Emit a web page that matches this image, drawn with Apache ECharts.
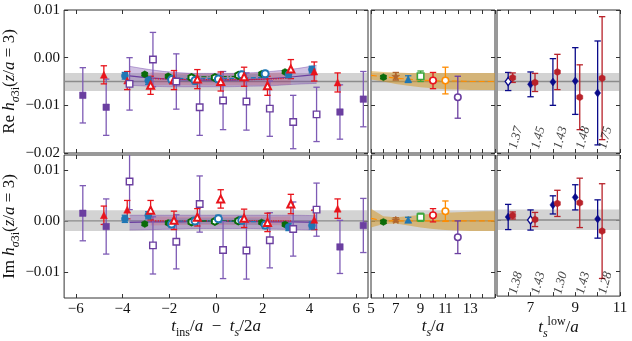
<!DOCTYPE html>
<html>
<head>
<meta charset="utf-8">
<script src="https://cdn.jsdelivr.net/npm/echarts@6/dist/echarts.min.js"></script>
<style>
html, body { margin: 0; padding: 0; background: #fff; }
#main { width: 632px; height: 341px; }
</style>
</head>
<body>
<div id="main"></div>
<script>
// ---- data ----
// left panels: ratio vs t_ins - t_s/2 for t_s = 6, 8, 10, 12
var xP = [-5.7, -4.7, -3.7, -2.7, -1.7, -0.7, 0.3, 1.3, 2.3, 3.3, 4.3, 5.3, 6.3]
var reP = [-0.0079, -0.0104, -0.0055, -0.0004, -0.0050, -0.0104, -0.0090, -0.0092, -0.0107, -0.0135, -0.0119, -0.0114, -0.0087]
var reErrP = [0.0058, 0.0059, 0.0055, 0.0057, 0.0058, 0.0059, 0.0061, 0.0060, 0.0058, 0.0056, 0.0057, 0.0057, 0.0058]
var imP = [0.0016, -0.0010, 0.0078, -0.0047, -0.0040, 0.0034, -0.0056, -0.0057, -0.0037, -0.0015, 0.0023, -0.0050, -0.0008]
var imErrP = [0.0054, 0.0054, 0.0055, 0.0056, 0.0053, 0.0055, 0.0056, 0.0056, 0.0054, 0.0053, 0.0052, 0.0052, 0.0053]

var xR = [-4.8, -3.8, -2.8, -1.8, -0.8, 0.2, 1.2, 2.2, 3.2, 4.2, 5.2]
var reR = [-0.0036, -0.0048, -0.0058, -0.0047, -0.0045, -0.0050, -0.0040, -0.0059, -0.0024, -0.0029, -0.0052]
var reErrR = [0.0019, 0.0019, 0.0019, 0.0020, 0.0020, 0.0020, 0.0020, 0.0020, 0.0020, 0.0020, 0.0020]
var imR = [0.0012, 0.0023, 0.0022, 0.0002, 0.0008, 0.0044, 0.0006, -0.0002, 0.0034, 0.0003, 0.0025]
var imErrR = [0.0018, 0.0018, 0.0019, 0.0018, 0.0017, 0.0018, 0.0018, 0.0018, 0.0019, 0.0019, 0.0019]

var xB = [-3.9, -2.9, -1.9, -0.9, 0.1, 1.1, 2.1, 3.1, 4.1]
var reB = [-0.0038, -0.0048, -0.0046, -0.0048, -0.0045, -0.0036, -0.0034, -0.0035, -0.0025]
var reErrB = [0.0007, 0.0008, 0.0007, 0.0007, 0.0007, 0.0007, 0.0007, 0.0007, 0.0007]
var imB = [0.0005, 0.0012, -0.0005, 0.0001, 0.0005, 0.0002, -0.0007, -0.0011, -0.0008]
var imErrB = [0.0007, 0.0007, 0.0007, 0.0007, 0.0007, 0.0007, 0.0007, 0.0007, 0.0007]

var xG = [-3.05, -2.05, -1.05, -0.05, 0.95, 1.95, 2.95]
var reG = [-0.0035, -0.0039, -0.0042, -0.0042, -0.0037, -0.0034, -0.0030]
var reErrG = [0.0003, 0.0003, 0.0003, 0.0003, 0.0003, 0.0003, 0.0003]
var imG = [-0.0005, -0.0003, -0.0001, 0.0000, 0.0001, -0.0002, -0.0006]
var imErrG = [0.0003, 0.0003, 0.0003, 0.0003, 0.0003, 0.0003, 0.0003]

// fit curves in left panels
var fitXP = [-3.7, -2.7, -1.7, -0.7, 0.3, 1.3, 2.3, 3.3, 4.3]
var reFitP = [-0.0038, -0.0043, -0.0046, -0.0047, -0.0047, -0.0046, -0.0044, -0.0040, -0.0035]
var reFitPHi = [-0.0018, -0.0026, -0.0031, -0.0033, -0.0033, -0.0032, -0.0029, -0.0024, -0.0016]
var reFitPLo = [-0.0058, -0.0060, -0.0061, -0.0061, -0.0061, -0.0060, -0.0059, -0.0056, -0.0054]
var imFitP = [-0.0002, -0.0001, -0.0001, 0.0000, 0.0000, 0.0000, -0.0001, -0.0001, -0.0002]
var imFitPHi = [0.0012, 0.0012, 0.0012, 0.0012, 0.0012, 0.0012, 0.0012, 0.0012, 0.0011]
var imFitPLo = [-0.0017, -0.0016, -0.0015, -0.0014, -0.0014, -0.0014, -0.0015, -0.0016, -0.0017]

var fitXR = [-2.8, -1.8, -0.8, 0.2, 1.2, 2.2, 3.2]
var reFitR = [-0.0044, -0.0045, -0.0046, -0.0046, -0.0046, -0.0045, -0.0043]
var reFitRHi = [-0.0030, -0.0033, -0.0034, -0.0034, -0.0034, -0.0032, -0.0029]
var reFitRLo = [-0.0058, -0.0057, -0.0058, -0.0058, -0.0058, -0.0058, -0.0057]
var imFitR = [0.0001, 0.0001, 0.0001, 0.0001, 0.0001, 0.0001, 0.0001]
var imFitRHi = [0.0010, 0.0009, 0.0009, 0.0009, 0.0009, 0.0009, 0.0010]
var imFitRLo = [-0.0008, -0.0007, -0.0007, -0.0007, -0.0007, -0.0007, -0.0008]

var fitXB = [-1.9, -0.9, 0.1, 1.1, 2.1]
var reFitB = [-0.0043, -0.0044, -0.0044, -0.0043, -0.0041]
var reFitBHi = [-0.0035, -0.0037, -0.0037, -0.0036, -0.0033]
var reFitBLo = [-0.0051, -0.0051, -0.0051, -0.0050, -0.0049]
var imFitB = [0.0000, 0.0001, 0.0001, 0.0000, -0.0001]
var imFitBHi = [0.0006, 0.0006, 0.0006, 0.0006, 0.0005]
var imFitBLo = [-0.0006, -0.0005, -0.0005, -0.0006, -0.0007]

var fitXG = [-1.05, -0.05, 0.95]
var reFitG = [-0.0040, -0.0040, -0.0039]
var imFitG = [0.0000, 0.0001, 0.0001]

// middle panels: summed ratio vs t_s
var tsVals = [6, 7, 8, 9, 10, 11, 12]
var reTs = [-0.0041, -0.0039, -0.0045, -0.0039, -0.0048, -0.0048, -0.0083]
var reTsErr = [0.0003, 0.0008, 0.0007, 0.0011, 0.0017, 0.0028, 0.0044]
var imTs = [-0.0001, 0.0003, 0.0003, 0.0008, 0.0012, 0.0020, -0.0031]
var imTsErr = [0.0003, 0.0004, 0.0005, 0.0008, 0.0013, 0.0020, 0.0032]

var bandTs = [5, 6, 7, 8, 9, 10, 11, 12, 13, 14, 15]
var reBandC = [-0.0037, -0.0040, -0.0043, -0.0045, -0.0047, -0.0048, -0.0049, -0.0049, -0.0050, -0.0050, -0.0050]
var reBandHi = [-0.0028, -0.0030, -0.0031, -0.0032, -0.0032, -0.0032, -0.0032, -0.0032, -0.0032, -0.0032, -0.0032]
var reBandLo = [-0.0046, -0.0050, -0.0055, -0.0059, -0.0062, -0.0064, -0.0066, -0.0067, -0.0068, -0.0068, -0.0068]
var imBandC = [0.0006, 0.0002, 0.0001, 0.0001, 0.0001, 0.0001, 0.0001, 0.0001, 0.0001, 0.0001, 0.0001]
var imBandHi = [0.0025, 0.0010, 0.0008, 0.0010, 0.0013, 0.0015, 0.0017, 0.0018, 0.0019, 0.0020, 0.0020]
var imBandLo = [-0.0012, -0.0005, -0.0004, -0.0008, -0.0012, -0.0015, -0.0017, -0.0018, -0.0019, -0.0019, -0.0019]

// right panels: vs t_s^low
var tLow = [6, 7, 8, 9, 10]
var reNavy = [-0.0050, -0.0056, -0.0051, -0.0049, -0.0074]
var reNavyErr = [0.0019, 0.0026, 0.0049, 0.0070, 0.0109]
var reRed = [-0.0042, -0.0052, -0.0030, -0.0083, -0.0043]
var reRedErr = [0.0010, 0.0019, 0.0037, 0.0068, 0.0129]
var imNavy = [0.0007, 0.0001, 0.0031, 0.0046, 0.0003]
var imNavyErr = [0.0025, 0.0020, 0.0018, 0.0025, 0.0038]
var imRed = [0.0010, 0.0002, 0.0034, 0.0035, -0.0021]
var imRedErr = [0.0007, 0.0014, 0.0026, 0.0049, 0.0094]
var reChosen = [true, false, false, false, false]
var imChosen = [false, true, false, false, false]
var reChi = ['1.37', '1.45', '1.43', '1.48', '1.75']
var imChi = ['1.38', '1.43', '1.30', '1.43', '1.28']

// final result (gray band): lower, central, upper
var reFinal = [-0.0070, -0.0050, -0.0032]
var imFinal = [-0.0019, 0.0001, 0.0022]

// ---- helpers ----
var FONT = 'Liberation Serif'
var PURPLE = '#6b3fa0', PURPLE_E = '#7e5bb5'
var RED = '#e8141c', BLUE = '#1f77b4', DKGREEN = '#0a6b0a', GREEN = '#3aa63a'
var BROWN = '#b0652e', ORANGE = '#ff8c00', NAVY = '#0a0a8a', DKRED = '#b8222a'
var HEX = 'path://M0,-10L8.66,-5L8.66,5L0,10L-8.66,5L-8.66,-5Z'
var STAR = 'path://M0,-10L2.4,-3.2L9.5,-3.1L3.8,1.2L5.9,8.1L0,4L-5.9,8.1L-3.8,1.2L-9.5,-3.1L-2.4,-3.2Z'

function fmt(v, d) {
    var s = v.toFixed(d)
    if (Math.abs(v) < 1e-9) s = (0).toFixed(d)
    return s.replace('-', '\u2212')
}

var series = []

function renderErr(params, api) {
    var x = api.value(0), y = api.value(1), e = api.value(2)
    var p1 = api.coord([x, y + e])
    var p2 = api.coord([x, y - e])
    var w = 3.2
    var st = { stroke: api.visual('color'), lineWidth: 1.3 }
    return {
        type: 'group', children: [
            { type: 'line', shape: { x1: p1[0], y1: p1[1], x2: p2[0], y2: p2[1] }, style: st },
            { type: 'line', shape: { x1: p1[0] - w, y1: p1[1], x2: p1[0] + w, y2: p1[1] }, style: st },
            { type: 'line', shape: { x1: p2[0] - w, y1: p2[1], x2: p2[0] + w, y2: p2[1] }, style: st }
        ]
    }
}

// band polygon: the first item draws the whole outline from every item of the series
function renderBand(params, api) {
    if (params.dataIndexInside !== 0) return null
    var n = params.dataInsideLength
    var top = [], bot = []
    for (var i = 0; i < n; i++) {
        var x = api.value(0, i)
        bot.push(api.coord([x, api.value(1, i)]))
        top.push(api.coord([x, api.value(2, i)]))
    }
    var pts = top.concat(bot.reverse())
    return {
        type: 'polygon', shape: { points: pts, smooth: 0 },
        style: { fill: api.visual('color'), stroke: null }
    }
}

function addErr(g, xs, ys, es, color) {
    series.push({
        type: 'custom', xAxisIndex: 2 * g, yAxisIndex: 2 * g, clip: true, silent: true, z: 4,
        itemStyle: { color: color },
        data: xs.map(function (x, i) { return [x, ys[i], es[i]] }),
        renderItem: renderErr
    })
}

function addMarks(g, xs, ys, opens, symbol, color, size, bw) {
    series.push({
        type: 'scatter', xAxisIndex: 2 * g, yAxisIndex: 2 * g, silent: true, z: 5,
        symbol: symbol, symbolSize: size, symbolKeepAspect: true,
        data: xs.map(function (x, i) {
            var o = opens[i]
            return {
                value: [x, ys[i]],
                itemStyle: { color: o ? '#fff' : color, borderColor: color, borderWidth: o ? (bw || 1.4) : 0.5, opacity: 1 }
            }
        })
    })
}

function addBand(g, xs, lo, hi, color, z) {
    series.push({
        type: 'custom', xAxisIndex: 2 * g, yAxisIndex: 2 * g, clip: true, silent: true, z: z || 1,
        itemStyle: { color: color },
        data: xs.map(function (x, i) { return [x, lo[i], hi[i]] }),
        renderItem: renderBand
    })
}

function addLine(g, xs, ys, color, type, width, smooth, z) {
    series.push({
        type: 'line', xAxisIndex: 2 * g, yAxisIndex: 2 * g, symbol: 'none', smooth: smooth,
        silent: true, z: z || 2,
        lineStyle: { color: color, width: width, type: type },
        data: xs.map(function (x, i) { return [x, ys[i]] })
    })
}

function openIn(n) {
    var o = []
    for (var i = 0; i < n; i++) o.push(i >= 2 && i <= n - 3)
    return o
}

// ---- grids and axes ----
var grids = [
    { left: 62, top: 10, width: 306, height: 143 },
    { left: 371, top: 10, width: 124, height: 143 },
    { left: 497, top: 10, width: 123, height: 143 },
    { left: 62, top: 155, width: 306, height: 143 },
    { left: 371, top: 155, width: 124, height: 143 },
    { left: 497, top: 155, width: 123, height: 143 }
]
grids.forEach(function (gr) {
    gr.show = true
    gr.borderColor = '#333'
    gr.borderWidth = 1
    gr.backgroundColor = 'transparent'
})

var xRanges = [[-6.5, 6.5], [5, 15], [5.5, 11]]
var xTicks = [[-6, -4, -2, 0, 2, 4, 6], [5, 6, 7, 8, 9, 10, 11, 12, 13, 14, 15], [6, 7, 8, 9, 10, 11]]
var xLabels = [[-6, -4, -2, 0, 2, 4, 6], [5, 7, 9, 11, 13], [7, 9, 11]]
var yRanges = [[-0.02, 0.01], [-0.015, 0.013]]
var yTicks = [[-0.02, -0.01, 0, 0.01], [-0.01, 0, 0.01]]

var rich = {
    n: { fontFamily: FONT, fontSize: 17, color: '#111', lineHeight: 24 },
    i: { fontFamily: FONT, fontSize: 17, fontStyle: 'italic', color: '#111', lineHeight: 24 },
    s: { fontFamily: FONT, fontSize: 12, color: '#111', lineHeight: 14, verticalAlign: 'bottom' },
    si: { fontFamily: FONT, fontSize: 12, fontStyle: 'italic', color: '#111', lineHeight: 14, verticalAlign: 'bottom' },
    u: { fontFamily: FONT, fontSize: 12, color: '#111', lineHeight: 14, verticalAlign: 'top' }
}
var xNames = [
    '{i|t}{s|ins}{n|/}{i|a}{n|  \u2212  }{i|t}{si|s}{n|/2}{i|a}',
    '{i|t}{si|s}{n|/}{i|a}',
    '{i|t}{si|s}{u|low}{n|/}{i|a}'
]
var yNames = [
    '{n|Re }{i|h}{si|\u03c3}{s|3i}{n|(}{i|z}{n|/}{i|a}{n| = 3)}',
    '{n|Im }{i|h}{si|\u03c3}{s|3i}{n|(}{i|z}{n|/}{i|a}{n| = 3)}'
]

var xAxis = [], yAxis = []
for (var g = 0; g < 6; g++) {
    var col = g % 3, row = Math.floor(g / 3)
    var tick = { show: true, inside: true, length: 4, customValues: xTicks[col], lineStyle: { color: '#333' } }
    xAxis.push({
        gridIndex: g, type: 'value', position: 'bottom', min: xRanges[col][0], max: xRanges[col][1],
        axisLine: { show: false, onZero: false }, splitLine: { show: false }, axisTick: tick,
        axisLabel: {
            show: row === 1, customValues: xLabels[col], margin: 4,
            fontFamily: FONT, fontSize: 15, color: '#111',
            formatter: function (v) { return fmt(v, 0) }
        },
        name: row === 1 ? xNames[col] : '', nameLocation: 'middle', nameGap: 13,
        nameTextStyle: { rich: rich }
    })
    xAxis.push({
        gridIndex: g, type: 'value', position: 'top', min: xRanges[col][0], max: xRanges[col][1],
        axisLine: { show: false, onZero: false }, splitLine: { show: false }, axisTick: tick,
        axisLabel: { show: false }
    })
    var ytick = { show: true, inside: true, length: 4, customValues: yTicks[row], lineStyle: { color: '#333' } }
    yAxis.push({
        gridIndex: g, type: 'value', position: 'left', min: yRanges[row][0], max: yRanges[row][1],
        axisLine: { show: false, onZero: false }, splitLine: { show: false }, axisTick: ytick,
        axisLabel: {
            show: col === 0, customValues: yTicks[row], margin: 4,
            fontFamily: FONT, fontSize: 15, color: '#111',
            formatter: function (v) { return fmt(v, 2) }
        },
        name: col === 0 ? yNames[row] : '', nameLocation: 'middle', nameGap: 40,
        nameTextStyle: { rich: rich }
    })
    yAxis.push({
        gridIndex: g, type: 'value', position: 'right', min: yRanges[row][0], max: yRanges[row][1],
        axisLine: { show: false, onZero: false }, splitLine: { show: false }, axisTick: ytick,
        axisLabel: { show: false }
    })
}

// ---- series ----
var GRAY = 'rgba(150,150,150,0.42)'
var finals = [reFinal, imFinal]
for (var g2 = 0; g2 < 6; g2++) {
    var c2 = g2 % 3, r2 = Math.floor(g2 / 3), f = finals[r2]
    addBand(g2, xRanges[c2], [f[0], f[0]], [f[2], f[2]], GRAY, 1)
    addLine(g2, xRanges[c2], [f[1], f[1]], '#8c8c8c', 'solid', 1.3, false, 1)
}

// left panels
var leftSets = [
    { g: 0, p: reP, pe: reErrP, r: reR, re: reErrR, b: reB, be: reErrB, gr: reG, ge: reErrG,
      fp: [reFitPLo, reFitPHi, reFitP], fr: [reFitRLo, reFitRHi, reFitR], fb: [reFitBLo, reFitBHi, reFitB], fg: reFitG },
    { g: 3, p: imP, pe: imErrP, r: imR, re: imErrR, b: imB, be: imErrB, gr: imG, ge: imErrG,
      fp: [imFitPLo, imFitPHi, imFitP], fr: [imFitRLo, imFitRHi, imFitR], fb: [imFitBLo, imFitBHi, imFitB], fg: imFitG }
]
leftSets.forEach(function (s) {
    addBand(s.g, fitXP, s.fp[0], s.fp[1], 'rgba(112,64,168,0.32)', 2)
    addBand(s.g, fitXR, s.fr[0], s.fr[1], 'rgba(230,30,40,0.16)', 2)
    addBand(s.g, fitXB, s.fb[0], s.fb[1], 'rgba(31,119,180,0.18)', 2)
    addLine(s.g, fitXP, s.fp[1], 'rgba(112,64,168,0.5)', 'solid', 0.8, true, 3)
    addLine(s.g, fitXP, s.fp[0], 'rgba(112,64,168,0.5)', 'solid', 0.8, true, 3)
    addLine(s.g, fitXP, s.fp[2], PURPLE, 'solid', 1.2, true, 3)
    addLine(s.g, fitXR, s.fr[2], RED, 'dotted', 1.2, true, 3)
    addLine(s.g, fitXB, s.fb[2], BLUE, 'dashed', 1.2, true, 3)
    addLine(s.g, fitXG, s.fg, DKGREEN, [5, 2, 1, 2], 1.2, true, 3)

    addErr(s.g, xP, s.p, s.pe, PURPLE_E)
    addErr(s.g, xR, s.r, s.re, RED)
    addErr(s.g, xB, s.b, s.be, BLUE)
    addErr(s.g, xG, s.gr, s.ge, DKGREEN)
    addMarks(s.g, xG, s.gr, openIn(xG.length), HEX, DKGREEN, 7, 2)
    addMarks(s.g, xB, s.b, openIn(xB.length), 'circle', BLUE, 7, 2)
    addMarks(s.g, xR, s.r, openIn(xR.length), 'triangle', RED, 7, 2)
    addMarks(s.g, xP, s.p, openIn(xP.length), 'rect', PURPLE, 6.5, 1.4)
})

// middle panels
var tsSym = [HEX, STAR, 'triangle', 'rect', 'circle', 'circle', 'circle']
var tsCol = [DKGREEN, BROWN, BLUE, GREEN, RED, ORANGE, PURPLE]
var tsOpen = [false, false, false, true, true, true, true]
var tsSize = [7, 8, 7, 6.5, 6.5, 6.5, 6.5]
var midSets = [
    { g: 1, v: reTs, e: reTsErr, lo: reBandLo, hi: reBandHi, c: reBandC },
    { g: 4, v: imTs, e: imTsErr, lo: imBandLo, hi: imBandHi, c: imBandC }
]
midSets.forEach(function (s) {
    addBand(s.g, bandTs, s.lo, s.hi, 'rgba(214,150,30,0.5)', 2)
    addLine(s.g, bandTs, s.c, ORANGE, [6, 3], 1.2, true, 3)
    for (var i = 0; i < tsVals.length; i++) {
        addErr(s.g, [tsVals[i]], [s.v[i]], [s.e[i]], tsCol[i])
        addMarks(s.g, [tsVals[i]], [s.v[i]], [tsOpen[i]], tsSym[i], tsCol[i], tsSize[i], 1.6)
    }
})

// right panels
var rightSets = [
    { g: 2, n: reNavy, ne: reNavyErr, r: reRed, re: reRedErr, ch: reChosen, lab: reChi, ly: -0.0168 },
    { g: 5, n: imNavy, ne: imNavyErr, r: imRed, re: imRedErr, ch: imChosen, lab: imChi, ly: -0.0124 }
]
rightSets.forEach(function (s) {
    var xRed = tLow.map(function (t) { return t + 0.2 })
    addErr(s.g, tLow, s.n, s.ne, NAVY)
    addErr(s.g, xRed, s.r, s.re, DKRED)
    addMarks(s.g, tLow, s.n, s.ch, 'diamond', NAVY, [6, 8], 1.4)
    addMarks(s.g, xRed, s.r, tLow.map(function () { return false }), HEX, DKRED, 7, 1)
    series.push({
        type: 'scatter', xAxisIndex: 2 * s.g, yAxisIndex: 2 * s.g, symbolSize: 0, silent: true, z: 6,
        label: {
            show: true, position: 'inside', formatter: '{b}', rotate: 75,
            fontFamily: FONT, fontStyle: 'italic', fontSize: 13, color: '#111'
        },
        data: tLow.map(function (t, i) { return { name: s.lab[i], value: [t + 0.35, s.ly] } })
    })
})

var myChart = echarts.init(document.getElementById('main'), null, { renderer: 'canvas' })
myChart.setOption({
    animation: false,
    grid: grids,
    xAxis: xAxis,
    yAxis: yAxis,
    series: series
})
</script>
</body>
</html>
